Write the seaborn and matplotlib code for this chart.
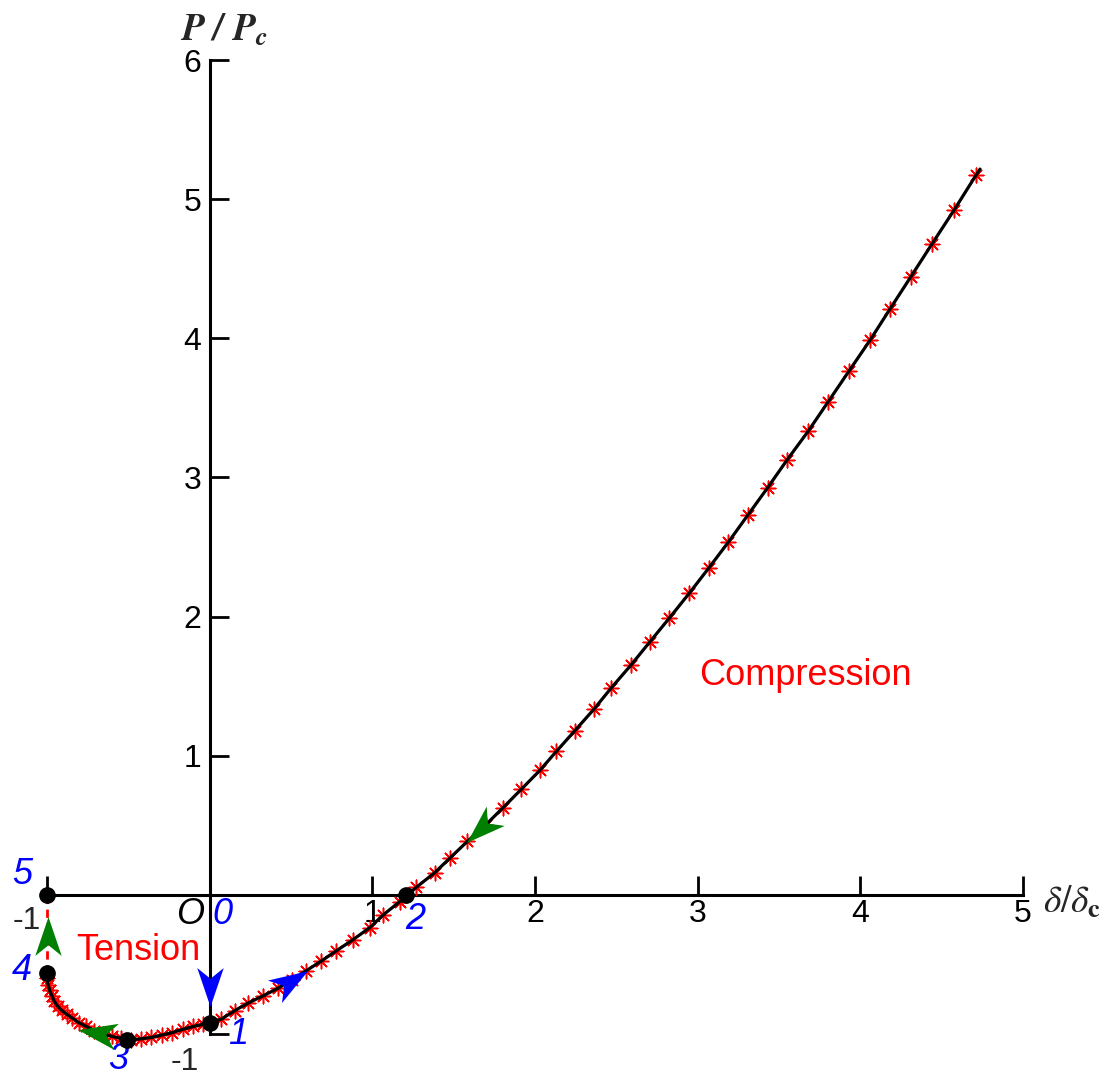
import matplotlib
matplotlib.use("Agg")
import matplotlib.pyplot as plt
import seaborn as sns
from matplotlib.markers import MarkerStyle
from matplotlib.path import Path
from matplotlib.transforms import Affine2D

# red asterisk samples along the path (from state 4 round to the top end)
sample_x = [-1.000, -0.993, -0.984, -0.970, -0.955, -0.935, -0.910, -0.880, -0.845,
            -0.805, -0.760, -0.710, -0.655, -0.600, -0.545, -0.485, -0.425, -0.360,
            -0.295, -0.230, -0.165, -0.100, -0.040,
            0.072, 0.154, 0.236, 0.328, 0.420, 0.504, 0.595, 0.687, 0.779, 0.881,
            0.984, 1.066, 1.169, 1.271, 1.384, 1.480, 1.585, 1.697, 1.804, 1.917,
            2.030, 2.132, 2.245, 2.362, 2.470, 2.589, 2.706, 2.825, 2.948, 3.067,
            3.188, 3.309, 3.430, 3.551, 3.680, 3.803, 3.930, 4.059, 4.182, 4.311,
            4.440, 4.576, 4.711]
sample_y = [-0.600, -0.645, -0.685, -0.725, -0.765, -0.800, -0.830, -0.857, -0.885,
            -0.918, -0.945, -0.975, -1.000, -1.017, -1.032, -1.040, -1.035, -1.025,
            -1.008, -0.990, -0.966, -0.946, -0.930,
            -0.893, -0.832, -0.778, -0.726, -0.671, -0.611, -0.544, -0.475, -0.402, -0.322,
            -0.236, -0.145, -0.048, 0.055, 0.160, 0.268, 0.385, 0.503, 0.627, 0.760,
            0.895, 1.032, 1.180, 1.334, 1.489, 1.650, 1.818, 1.988, 2.167, 2.347,
            2.534, 2.730, 2.926, 3.128, 3.333, 3.545, 3.764, 3.985, 4.210, 4.443,
            4.677, 4.921, 5.172]

# path ends
start_x, start_y = -1.003, -0.563
end_x, end_y = 4.736, 5.216

# numbered states 1..5 (black dots)
state_x = [0.0, 1.21, -0.509, -1.0, -1.0]
state_y = [-0.92, 0.0, -1.042, -0.563, 0.0]
state_names = ["0", "1", "2", "3", "4", "5"]
name_x = [0.08, 0.172, 1.267, -0.56, -1.156, -1.15]
name_y = [-0.144, -1.0, -0.18, -1.185, -0.546, 0.144]

# direction arrows: centre, angle (deg), colour
arrow_x = [0.0, 0.50, 1.665, -0.69, -0.996]
arrow_y = [-0.66, -0.618, 0.47, -0.99, -0.295]
arrow_angle = [-90, 32, -137, 170, 90]
arrow_color = ["blue", "blue", "green", "green", "green"]

x_ticks = [-1, 1, 2, 3, 4, 5]
y_ticks = [-1, 1, 2, 3, 4, 5, 6]

sns.set_theme(style="white")
plt.rcParams["font.family"] = ["Liberation Sans", "DejaVu Sans"]
plt.rcParams["mathtext.fontset"] = "stix"

fig = plt.figure(figsize=(11.1, 10.78), dpi=100)
ax = fig.add_axes([47 / 1110, 44 / 1078, 976 / 1110, 974 / 1078])

# asterisks first, black line drawn over them
sns.scatterplot(x=sample_x, y=sample_y, marker=(8, 2, 0), color="red", s=110,
                linewidth=1.1, ax=ax, zorder=3, clip_on=False)
line_x = [start_x] + sample_x + [end_x]
line_y = [start_y] + sample_y + [end_y]
sns.lineplot(x=line_x, y=line_y, sort=False, estimator=None, color="black",
             lw=2.3, ax=ax, zorder=4, clip_on=False)

# 4 -> 5 jump
ax.plot([state_x[3], state_x[4]], [state_y[3], state_y[4]], color="red",
        lw=2.0, ls=(0, (3, 2)), zorder=3, clip_on=False)

ax.plot(state_x, state_y, "o", color="black", ms=11, zorder=6, clip_on=False)

head = Path([(1, 0), (-1, 0.68), (-0.45, 0), (-1, -0.68), (1, 0)],
            [Path.MOVETO, Path.LINETO, Path.LINETO, Path.LINETO, Path.CLOSEPOLY])
for ax_x, ax_y, ang, col in zip(arrow_x, arrow_y, arrow_angle, arrow_color):
    m = MarkerStyle(head, transform=Affine2D().rotate_deg(ang))
    ax.plot([ax_x], [ax_y], marker=m, color=col, ms=28, mew=0, ls="none",
            zorder=7, clip_on=False)

for name, tx, ty in zip(state_names, name_x, name_y):
    ax.text(tx, ty, name, color="blue", style="italic", fontsize=26,
            ha="center", va="center")
ax.text(-0.123, -0.144, "O", color="black", style="italic", fontsize=26,
        ha="center", va="center")
ax.text(-0.437, -0.402, "Tension", color="red", fontsize=26, ha="center", va="center")
ax.text(3.66, 1.573, "Compression", color="red", fontsize=26, ha="center", va="center")

# axes through the origin
ax.set_xlim(-1, 5)
ax.set_ylim(-1, 6)
for side in ["top", "right"]:
    ax.spines[side].set_visible(False)
ax.spines["left"].set_position(("data", 0))
ax.spines["bottom"].set_position(("data", 0))
for side in ["left", "bottom"]:
    ax.spines[side].set_linewidth(2.2)
    ax.spines[side].set_color("black")
ax.grid(False)

ax.set_xticks(x_ticks)
ax.set_xticklabels([""] + [str(t) for t in x_ticks[1:]])
ax.set_yticks(y_ticks)
ax.set_yticklabels([""] + [str(t) for t in y_ticks[1:]])
ax.tick_params(bottom=True, left=True, direction="in", length=14, width=2.0,
               color="black", labelsize=23, labelcolor="black")
ax.tick_params(axis="x", pad=3)
ax.tick_params(axis="y", pad=6)
ax.text(-1.125, -0.187, "-1", fontsize=23, ha="center", va="center")
ax.text(-0.154, -1.2, "-1", fontsize=23, ha="center", va="center", clip_on=False)

ax.text(-0.185, 6.345, r"$\mathbfit{P\ /\ P_c}$", fontsize=27, ha="left", va="top",
        clip_on=False)
ax.text(5.12, -0.05, r"$\delta/\delta_{\mathbf{c}}$", fontsize=27, ha="left",
        va="center", clip_on=False)

fig.savefig("out.png", dpi=100)
